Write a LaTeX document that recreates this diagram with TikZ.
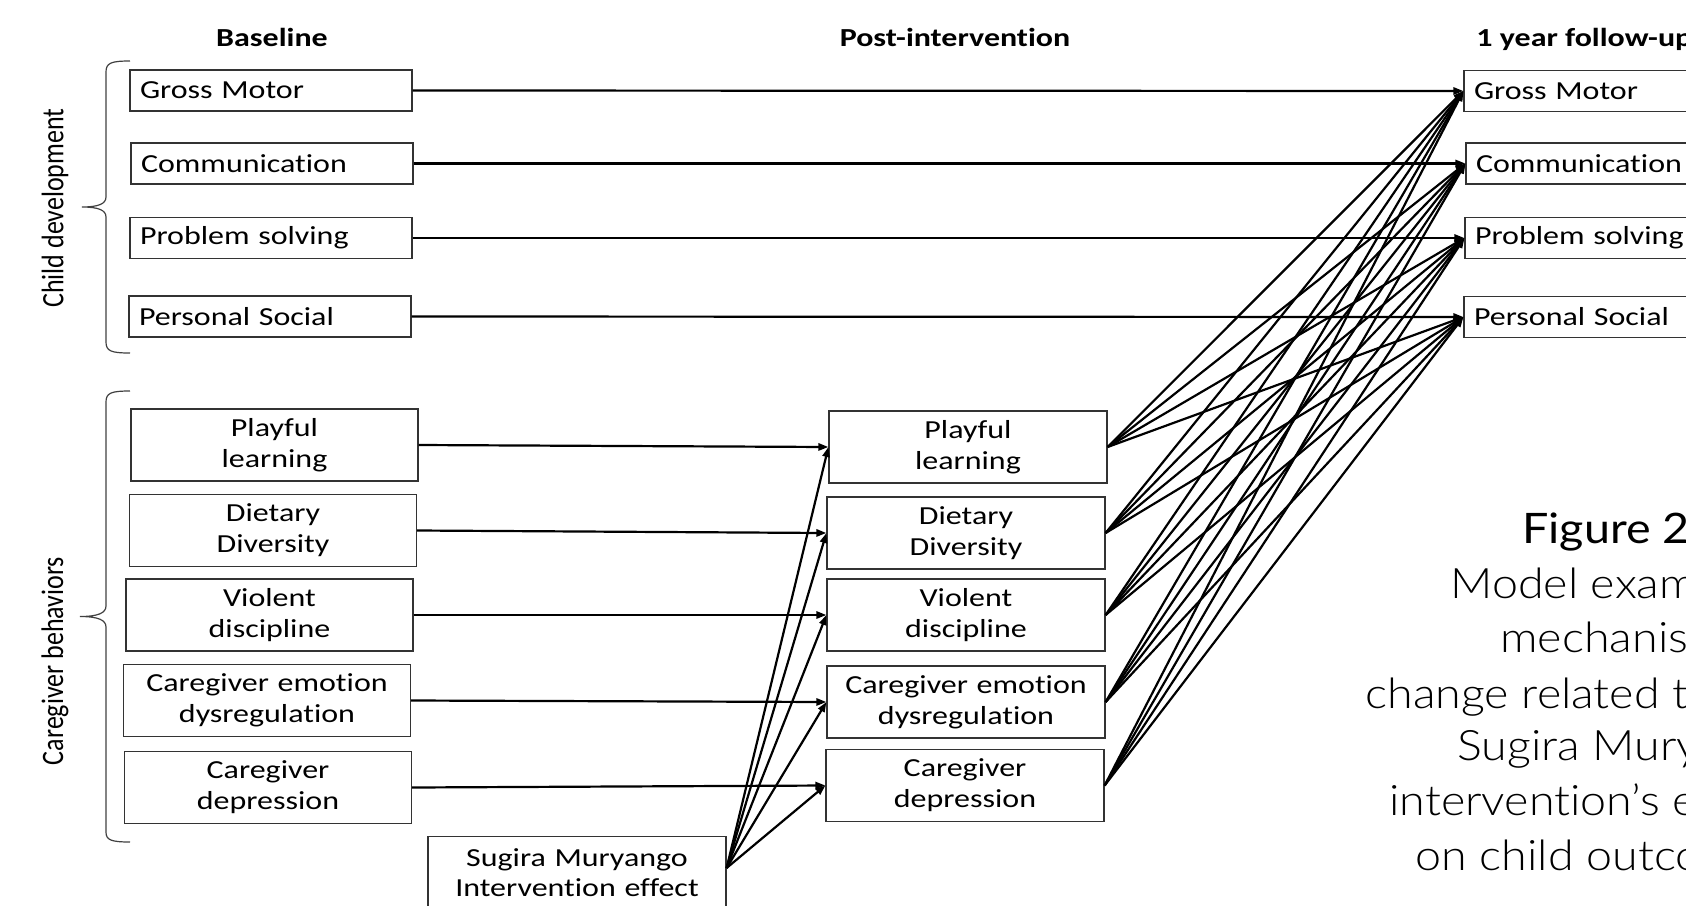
\documentclass[tikz,border=0pt]{standalone}
\usepackage{fontspec}
\setmainfont{Carlito}[FakeStretch=1.23, Ligatures=NoCommon]
\newfontfamily\plainfont{Carlito}[Ligatures=NoCommon]
\newfontfamily\capfont{Lato Light}[FakeStretch=1.11, Ligatures=NoCommon]
\newfontfamily\figfont{Lato}[FakeStretch=1.11, Ligatures=NoCommon]
\usetikzlibrary{arrows.meta,calc}

\begin{document}
\begin{tikzpicture}[x=0.5pt,y=-0.5pt,
    font=\fontsize{13}{15.5}\selectfont,
    cdbox/.style={draw=black!80, line width=0.6pt, text width=131pt, inner xsep=5pt, minimum height=20.5pt, align=left},
    cgbox/.style={draw=black!80, line width=0.6pt, text width=133.5pt, inner xsep=5pt, minimum height=36pt, align=center},
    pibox/.style={draw=black!80, line width=0.6pt, text width=129pt, inner xsep=5pt, minimum height=36pt, align=center},
    sgbox/.style={draw=black!80, line width=0.6pt, text width=139pt, inner xsep=5pt, minimum height=36pt, align=center, font=\fontsize{13}{15}\selectfont},
    head/.style={inner sep=0pt, font=\fontsize{13}{15}\selectfont\bfseries},
    side/.style={rotate=90, inner sep=0pt, font=\fontsize{13}{15}\selectfont\plainfont},
    capline/.style={inner sep=0pt, anchor=base west, font=\fontsize{21}{27}\selectfont\capfont},
    bracket/.style={line width=0.6pt, black!75},
    link/.style={-{Triangle[length=5pt,width=3.6pt]}, line width=1.1pt}]
    \useasboundingbox (0,0) rectangle (1686,905);
    \clip (0,0) rectangle (1686,905);

    % column headings
    \node[head, anchor=base] (hbase) at (272,46) {Baseline};
    \node[head, anchor=base] (hpost) at (955,46) {Post-intervention};
    \node[head, anchor=base west] (hfollow) at (1476,46) {1 year follow-up};

    % child development
    \node[cdbox] (bgm) at (271,90.5) {Gross Motor};
    \node[cdbox] (bcm) at (272,163.5) {Communication};
    \node[cdbox] (bps) at (271,238) {Problem solving};
    \node[cdbox] (bsoc) at (270,316.5) {Personal Social};
    \node[cdbox] (fgm) at (1605,91) {Gross Motor};
    \node[cdbox] (fcm) at (1607,163.5) {Communication};
    \node[cdbox] (fps) at (1606,238) {Problem solving};
    \node[cdbox] (fsoc) at (1605,317) {Personal Social};

    % caregiver behaviors
    \node[cgbox] (bpl) at (274.5,445) {Playful\\learning};
    \node[cgbox] (bdd) at (273,530.5) {Dietary\\Diversity};
    \node[cgbox] (bvd) at (269.5,615) {Violent\\discipline};
    \node[cgbox] (bed) at (267,700.5) {Caregiver emotion\\dysregulation};
    \node[cgbox] (bdp) at (268,787.5) {Caregiver\\depression};
    \node[pibox] (ppl) at (968,447) {Playful\\learning};
    \node[pibox] (pdd) at (966,533) {Dietary\\Diversity};
    \node[pibox] (pvd) at (966,615) {Violent\\discipline};
    \node[pibox] (ped) at (966,702) {Caregiver emotion\\dysregulation};
    \node[pibox] (pdp) at (965,785.5) {Caregiver\\depression};
    \node[sgbox, anchor=north] (sug) at (577,836) {Sugira Muryango\\Intervention effect};

    % braces
    \draw[bracket] (130,61) .. controls (111,61) and (106,63) .. (106,72) -- (106,197)
        .. controls (106,204) and (98,207) .. (82,207) .. controls (98,207) and (106,210) .. (106,217)
        -- (106,342) .. controls (106,351) and (111,353) .. (130,353);
    \draw[bracket] (130,391) .. controls (111,391) and (106,393) .. (106,402) -- (106,606)
        .. controls (106,613) and (98,616.5) .. (80,616.5) .. controls (98,616.5) and (106,620) .. (106,627)
        -- (106,832) .. controls (106,840) and (111,842) .. (130,842);
    \node[side] (lchild) at (55,208) {\scalebox{1}[1.2]{Child development}};
    \node[side] (lcare) at (55,661) {\scalebox{1}[1.2]{Caregiver behaviors}};

    % paths
    \foreach \a/\b in {bgm/fgm,bcm/fcm,bps/fps,bsoc/fsoc,bpl/ppl,bdd/pdd,bvd/pvd,bed/ped,bdp/pdp}
        \draw[link] (\a.east) -- (\b.west);
    \coordinate (sugout) at ($(sug.north east)+(0,32)$);
    \foreach \b in {ppl,pdd,pvd,ped,pdp}
        \draw[link] (sugout) -- (\b.west);
    \foreach \a in {ppl,pdd,pvd,ped,pdp}
        \foreach \b in {fgm,fcm,fps,fsoc}
            \draw[link] (\a.east) -- (\b.west);

    % caption
    \node[capline, font=\fontsize{21}{27}\selectfont\figfont] (cfig) at (1522,543) {Figure 2};
    \node[capline] (c1) at (1450,598) {Model examining};
    \node[capline] (c2) at (1500,652) {mechanisms of};
    \node[capline] (c3) at (1365,708) {change related to the};
    \node[capline] (c4) at (1457,760) {Sugira Muryango};
    \node[capline] (c5) at (1389,815) {intervention’s effects};
    \node[capline] (c6) at (1415,870) {on child outcomes};
\end{tikzpicture}
\end{document}
